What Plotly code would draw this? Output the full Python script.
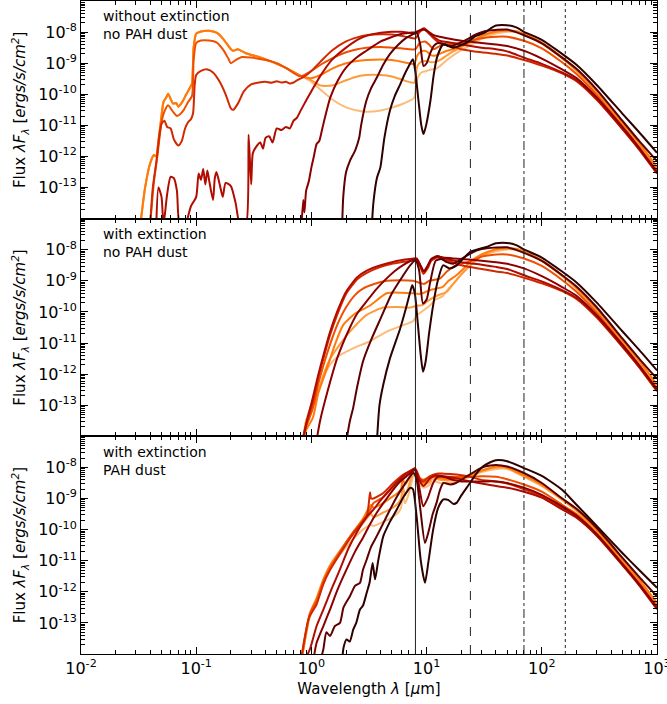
import plotly.graph_objects as go
from plotly.subplots import make_subplots

# colours, lightest (latest stage) to darkest (most embedded)
COLORS = ["#FDBB7A", "#FF9A3C", "#FF7A0A", "#F04F00", "#D22800",
          "#B00C00", "#8C0000", "#5E0000", "#2E0000"]

PANEL_LABELS = ["without extinction<br>no PAH dust",
                "with extinction<br>no PAH dust",
                "with extinction<br>PAH dust"]

# (wavelength [um], log10 flux) pairs

# far-IR tails shared by panel 1 and panel 2
FIR_C0 = [(40, -8.05), (50, -7.99), (60, -8.0), (70, -8.08), (100, -8.37), (150, -8.85), (200, -9.25), (300, -9.93), (500, -10.93), (700, -11.6), (1000, -12.38)]
FIR_C1 = [(40, -8.0), (50, -7.96), (60, -7.98), (70, -8.07), (100, -8.35), (150, -8.83), (200, -9.23), (300, -9.91), (500, -10.91), (700, -11.58), (1000, -12.36)]
FIR_C2 = [(40, -7.98), (50, -7.95), (60, -7.97), (70, -8.06), (100, -8.34), (150, -8.82), (200, -9.22), (300, -9.9), (500, -10.9), (700, -11.56), (1000, -12.34)]
FIR_C3 = [(40, -8.15), (50, -8.15), (70, -8.28), (100, -8.52), (150, -8.97), (200, -9.35), (300, -10.02), (500, -11.02), (700, -11.7), (1000, -12.46)]
FIR_C4 = [(40, -8.7), (50, -8.75), (70, -8.9), (100, -9.08), (150, -9.33), (200, -9.58), (300, -10.18), (500, -11.12), (700, -11.78), (1000, -12.55)]
FIR_C5 = [(40, -8.55), (50, -8.62), (70, -8.82), (100, -9.02), (150, -9.3), (200, -9.55), (300, -10.15), (500, -11.1), (700, -11.76), (1000, -12.53)]
FIR_C6 = [(40, -8.4), (50, -8.45), (70, -8.6), (100, -8.85), (150, -9.2), (200, -9.48), (300, -10.1), (500, -11.05), (700, -11.72), (1000, -12.5)]
FIR_C7 = [(40, -7.93), (50, -7.92), (70, -8.1), (100, -8.36), (150, -8.82), (200, -9.18), (300, -9.85), (500, -10.85), (700, -11.5), (1000, -12.15)]
FIR_C8 = [(40, -7.79), (50, -7.78), (60, -7.85), (70, -7.99), (100, -8.25), (150, -8.7), (200, -9.05), (300, -9.7), (500, -10.62), (700, -11.22), (1000, -11.88)]

# --- panel 1: without extinction, no PAH dust ---
UV_GROUP = [(0.033, -14.1), (0.036, -13.0), (0.04, -12.2), (0.043, -11.95), (0.045, -12.0), (0.047, -11.5), (0.05, -10.7),
            (0.052, -10.25), (0.055, -10.1), (0.057, -9.98), (0.06, -10.15), (0.063, -10.3), (0.067, -10.28), (0.07, -10.4),
            (0.074, -10.3), (0.077, -10.2), (0.082, -10.0), (0.088, -9.8), (0.092, -9.65), (0.095, -8.5), (0.1, -8.05),
            (0.11, -7.98), (0.13, -7.96), (0.15, -8.02), (0.17, -8.2), (0.2, -8.55), (0.21, -8.6), (0.23, -8.55),
            (0.27, -8.68), (0.35, -8.8), (0.45, -8.95), (0.6, -9.15), (0.8, -9.4)]
P1_C0 = UV_GROUP + [(1.0, -9.6), (1.2, -9.85), (1.5, -10.15), (2, -10.42), (2.5, -10.52), (3, -10.56), (4, -10.52), (5, -10.43),
                    (6, -10.33), (7, -10.22), (7.8, -10.12), (8.3, -9.5), (9, -9.3), (10, -9.25), (11, -9.2), (12, -9.18),
                    (13, -9.1), (15, -8.9), (17, -8.75), (20, -8.58), (25, -8.38), (30, -8.22)] + FIR_C0
P1_C1 = UV_GROUP + [(1.0, -9.55), (1.2, -9.72), (1.5, -9.72), (2, -9.55), (2.5, -9.43), (3, -9.38), (4, -9.38), (5, -9.43),
                    (6, -9.52), (7, -9.6), (7.8, -9.63), (8.3, -9.1), (9, -8.95), (10, -8.93), (11, -8.97), (12, -8.95),
                    (13, -8.9), (15, -8.75), (17, -8.62), (20, -8.48), (25, -8.3), (30, -8.15)] + FIR_C1
P1_C2 = UV_GROUP + [(1.0, -9.48), (1.2, -9.38), (1.5, -9.18), (2, -9.0), (2.5, -8.93), (3, -8.9), (4, -8.88), (5, -8.9),
                    (6, -8.95), (7, -9.0), (7.8, -9.03), (8.3, -8.75), (9, -8.62), (10, -8.62), (11, -8.75), (12, -8.75),
                    (13, -8.7), (15, -8.6), (17, -8.55), (20, -8.45), (25, -8.28), (30, -8.12)] + FIR_C2
P1_C3 = [(0.04, -14.1), (0.043, -12.8), (0.046, -12.0), (0.05, -10.9), (0.053, -10.55), (0.057, -10.35), (0.06, -10.45),
         (0.064, -10.6), (0.068, -10.7), (0.072, -10.65), (0.078, -10.5), (0.085, -10.25), (0.092, -10.05), (0.095, -8.9),
         (0.1, -8.35), (0.11, -8.27), (0.13, -8.27), (0.15, -8.33), (0.17, -8.55), (0.19, -8.85), (0.2, -9.0), (0.22, -8.9),
         (0.25, -8.8), (0.3, -8.82), (0.4, -8.9), (0.5, -9.0), (0.6, -9.15), (0.8, -9.42), (1.0, -9.25), (1.2, -9.05),
         (1.5, -8.85), (2, -8.65), (2.5, -8.55), (3, -8.5), (4, -8.48), (5, -8.5), (6, -8.52), (7, -8.55), (8, -8.55),
         (8.7, -8.35), (9.7, -8.3), (10.5, -8.4), (11.5, -8.55), (13, -8.45), (15, -8.4), (20, -8.35), (30, -8.2)] + FIR_C3
P1_C4 = [(0.04, -14.1), (0.042, -13.0), (0.045, -12.2), (0.048, -11.3), (0.05, -10.95), (0.053, -10.85), (0.056, -11.05),
         (0.06, -11.1), (0.064, -11.45), (0.07, -11.65), (0.075, -11.5), (0.08, -11.1), (0.085, -10.9), (0.09, -10.8),
         (0.094, -10.6), (0.097, -9.7), (0.1, -9.38), (0.11, -9.25), (0.125, -9.2), (0.14, -9.3), (0.16, -9.6), (0.18, -10.0),
         (0.2, -10.45), (0.21, -10.5), (0.23, -10.3), (0.26, -9.9), (0.3, -9.68), (0.35, -9.62), (0.4, -9.6), (0.45, -9.63),
         (0.5, -9.58), (0.55, -9.62), (0.6, -9.6), (0.65, -9.65), (0.7, -9.62), (0.75, -9.55), (0.85, -9.45), (1.0, -9.25),
         (1.2, -8.95), (1.5, -8.6), (2, -8.3), (2.5, -8.17), (3, -8.1), (4, -8.07), (5, -8.08), (6, -8.12), (7, -8.17),
         (8, -8.2), (8.7, -8.0), (9.5, -7.92), (10.5, -8.05), (11.5, -8.2), (13, -8.35), (15, -8.4), (20, -8.55), (30, -8.65)] + FIR_C4
P1_C5 = [(0.045, -14.2), (0.047, -13.0), (0.05, -13.3), (0.052, -14.2), (0.056, -13.2), (0.06, -12.65), (0.064, -12.7),
         (0.068, -13.1), (0.072, -14.2), (0.08, -14.2), (0.09, -13.6), (0.1, -13.3), (0.105, -12.55), (0.11, -12.75),
         (0.115, -12.4), (0.12, -12.9), (0.125, -12.45), (0.13, -12.8), (0.14, -13.4), (0.145, -12.7), (0.15, -12.5),
         (0.16, -12.9), (0.17, -13.3), (0.18, -12.85), (0.2, -12.95), (0.22, -13.5), (0.24, -14.2), (0.27, -14.2),
         (0.285, -11.3), (0.3, -12.9), (0.31, -11.9), (0.33, -11.7), (0.36, -11.55), (0.38, -11.75), (0.4, -11.4),
         (0.43, -11.35), (0.46, -11.55), (0.5, -11.1), (0.55, -11.15), (0.6, -11.05), (0.65, -11.1), (0.7, -10.85),
         (0.75, -10.75), (0.8, -10.55), (0.9, -10.2), (1.0, -9.9), (1.2, -9.4), (1.5, -8.9), (2, -8.5), (2.5, -8.25),
         (3, -8.12), (4, -8.02), (5, -7.99), (6, -7.99), (7, -8.02), (8, -8.05), (8.7, -7.95), (9.5, -7.88), (10.5, -8.02),
         (11.5, -8.15), (13, -8.28), (15, -8.32), (20, -8.4), (30, -8.5)] + FIR_C5
P1_C6 = [(0.82, -14.2), (0.85, -13.4), (0.87, -13.8), (0.9, -13.1), (0.95, -12.8), (1.0, -12.35), (1.05, -12.0), (1.11, -11.6),
         (1.17, -11.5), (1.23, -11.18), (1.3, -10.8), (1.46, -10.1), (1.7, -9.55), (2, -9.14), (2.5, -8.8), (3, -8.6),
         (4, -8.3), (4.8, -8.18), (6, -8.06), (7.2, -8.02), (8, -8.0), (8.7, -7.95), (9.5, -7.92), (10.5, -8.0), (11.5, -8.1),
         (13, -8.15), (15, -8.2), (20, -8.28), (30, -8.35)] + FIR_C6
P1_C7 = [(1.85, -14.2), (1.89, -13.3), (2.0, -12.5), (2.16, -12.14), (2.4, -11.8), (2.6, -11.4), (2.7, -11.0), (3.0, -10.21),
         (3.3, -9.8), (3.7, -9.46), (4.2, -9.05), (4.8, -8.71), (5.7, -8.4), (6.7, -8.18), (7.5, -8.08), (8.2, -8.02),
         (8.8, -8.4), (9.4, -9.09), (10, -9.0), (10.7, -8.7), (11.5, -8.45), (12.5, -8.35), (14, -8.38), (16, -8.45),
         (18, -8.4), (22, -8.25), (27, -8.07), (32, -7.97)] + FIR_C7
P1_C8 = [(3.35, -14.2), (3.45, -13.5), (3.7, -12.7), (3.97, -12.35), (4.3, -11.4), (4.8, -10.53), (5.3, -10.05), (5.9, -9.68),
         (6.4, -9.38), (6.9, -9.14), (7.6, -8.87), (8.0, -9.3), (8.5, -10.2), (9.0, -11.0), (9.4, -11.28), (9.9, -11.0),
         (10.8, -10.2), (11.5, -9.4), (12.3, -8.82), (13.9, -8.39), (15.5, -8.45), (17.1, -8.5), (22.3, -8.34), (26, -8.15),
         (32, -8.02), (36, -7.88)] + FIR_C8

# --- panel 2: with extinction, no PAH dust ---
P2_C0 = [(0.84, -14.2), (0.9, -13.5), (1.0, -13.0), (1.14, -12.57), (1.3, -12.0), (1.45, -11.7), (1.67, -11.45), (2.3, -11.17),
         (3.2, -10.95), (4.5, -10.63), (6.2, -10.43), (7.6, -10.3), (8.3, -10.1), (9, -10.0), (10.6, -9.8), (12, -9.6),
         (13.7, -9.5), (15.5, -9.25), (18, -9.0), (21, -8.72), (24, -8.5), (30, -8.22)] + FIR_C0
P2_C1 = [(0.84, -14.2), (0.9, -13.5), (1.0, -13.1), (1.1, -12.8), (1.25, -12.1), (1.46, -11.5), (1.8, -11.0), (2.16, -10.63),
         (3.0, -10.1), (4.2, -9.86), (5.5, -9.84), (7.2, -9.86), (8.2, -9.8), (9.2, -9.78), (10.5, -9.62), (12.4, -9.47),
         (15, -9.35), (17, -9.1), (19.5, -8.83), (24, -8.5), (30, -8.2)] + FIR_C1
P2_C2 = [(0.84, -14.2), (0.9, -13.8), (1.03, -13.4), (1.15, -12.6), (1.37, -11.8), (1.6, -11.05), (1.88, -10.43), (2.4, -10.05),
         (3.2, -9.8), (4.5, -9.4), (6, -9.38), (7.6, -9.4), (8.5, -9.42), (9.5, -9.38), (10.6, -9.3), (12, -9.25), (13.7, -9.2),
         (15.5, -9.0), (18, -8.83), (21, -8.6), (24, -8.38), (30, -8.15)] + FIR_C2
P2_C3 = [(0.83, -14.2), (0.9, -13.7), (1.03, -13.1), (1.15, -12.3), (1.3, -11.6), (1.45, -11.05), (1.67, -10.43), (2.0, -9.85),
         (2.4, -9.45), (2.8, -9.25), (3.5, -9.1), (4.5, -9.0), (6, -8.98), (7.6, -9.0), (8.5, -9.05), (9.5, -9.1), (10.5, -9.0),
         (13, -8.93), (15, -8.7), (17, -8.55), (20, -8.45), (25, -8.35), (30, -8.22)] + FIR_C3
P2_C4 = [(0.83, -14.2), (0.92, -13.5), (1.03, -12.9), (1.15, -12.1), (1.26, -11.55), (1.45, -10.75), (1.67, -10.1),
         (2.0, -9.42), (2.5, -8.95), (3, -8.75), (4, -8.55), (5, -8.45), (6, -8.4), (7.2, -8.36), (8.2, -8.35), (8.8, -8.55),
         (9.4, -8.78), (10.2, -8.6), (11, -8.35), (12.4, -8.25), (14, -8.32), (16, -8.38), (20, -8.5), (30, -8.62)] + FIR_C4
P2_C5 = [(0.83, -14.2), (0.9, -13.6), (1.03, -12.75), (1.15, -12.0), (1.26, -11.45), (1.45, -10.65), (1.67, -10.0),
         (2.0, -9.35), (2.5, -8.88), (3, -8.68), (4, -8.5), (5, -8.4), (6, -8.34), (7.2, -8.3), (8.2, -8.28), (8.8, -8.48),
         (9.4, -8.7), (10.2, -8.52), (11, -8.3), (12.4, -8.2), (14, -8.27), (16, -8.32), (20, -8.4), (30, -8.48)] + FIR_C5
P2_C6 = [(1.1, -14.2), (1.19, -13.5), (1.37, -12.6), (1.67, -11.5), (2.16, -10.5), (2.5, -10.05), (3.0, -9.67), (3.7, -9.25),
         (4.5, -8.92), (5.3, -8.68), (6.2, -8.5), (7.6, -8.33), (8.2, -8.32), (8.8, -8.5), (9.5, -8.7), (10.3, -8.5),
         (11, -8.3), (12.5, -8.22), (14, -8.25), (17, -8.28), (20, -8.3), (30, -8.35)] + FIR_C6
P2_C7 = [(2.0, -14.2), (2.16, -13.5), (2.3, -13.1), (2.5, -12.4), (2.8, -11.6), (3.3, -10.9), (4.0, -10.2), (5.0, -9.4),
         (6.2, -8.85), (7.2, -8.5), (8.0, -8.35), (8.6, -8.65), (9.3, -9.73), (10, -9.6), (10.8, -9.0), (12, -8.35),
         (13.5, -8.3), (15, -8.4), (17, -8.45), (20, -8.3), (24, -8.12), (30, -7.98)] + FIR_C7
P2_C8 = [(3.7, -14.2), (3.9, -13.0), (4.2, -12.35), (4.8, -11.5), (5.9, -10.53), (6.6, -9.9), (7.2, -9.36), (7.5, -9.14),
         (7.9, -9.4), (8.4, -10.4), (8.9, -11.4), (9.3, -11.92), (9.8, -11.6), (10.5, -10.7), (11.4, -9.78), (12.5, -9.0),
         (13.9, -8.5), (15.8, -8.6), (18.2, -8.5), (24, -8.07), (33, -7.91)] + FIR_C8

# --- panel 3: with extinction, PAH dust ---
P3_C0 = [(0.83, -14.1), (0.97, -12.8), (1.11, -12.3), (1.27, -11.7), (1.45, -11.25), (1.77, -10.8), (2.31, -10.3), (2.8, -10.0),
         (3.3, -9.85), (3.45, -9.88), (4.2, -9.75), (4.8, -9.65), (5.5, -9.5), (6.0, -9.3), (6.2, -8.85), (6.5, -9.15),
         (7.0, -8.85), (7.6, -8.3), (7.93, -8.1), (8.3, -8.3), (8.6, -8.5), (9.4, -8.65), (10.7, -8.55), (11.3, -8.35),
         (12, -8.45), (13, -8.5), (15, -8.5), (18, -8.45), (24, -8.3), (30, -8.15), (40, -8.05), (50, -8.05), (70, -8.3),
         (100, -8.6), (150, -9.05), (200, -9.4), (300, -10.05), (500, -11.0), (700, -11.65), (1000, -12.4)]
P3_C1 = [(0.83, -14.1), (0.97, -12.75), (1.11, -12.25), (1.27, -11.65), (1.45, -11.2), (1.77, -10.72), (2.31, -10.15),
         (2.8, -9.8), (3.3, -9.5), (3.45, -9.6), (4.2, -9.45), (4.8, -9.35), (5.5, -9.2), (6.0, -9.0), (6.2, -8.6), (6.5, -8.9),
         (7.0, -8.6), (7.6, -8.15), (7.93, -8.05), (8.3, -8.25), (8.6, -8.45), (9.4, -8.55), (10.7, -8.45), (11.3, -8.3),
         (12, -8.35), (13, -8.4), (15, -8.42), (18, -8.4), (24, -8.28), (30, -8.12), (40, -8.0), (50, -8.02), (70, -8.28),
         (100, -8.58), (150, -9.03), (200, -9.38), (300, -10.03), (500, -10.98), (700, -11.63), (1000, -12.38)]
P3_C2 = [(0.83, -14.1), (0.97, -12.7), (1.11, -12.2), (1.27, -11.6), (1.45, -11.15), (1.77, -10.68), (2.31, -10.08),
         (2.8, -9.65), (3.3, -9.2), (3.45, -9.3), (4.2, -9.15), (4.8, -9.0), (5.5, -8.85), (6.0, -8.7), (6.2, -8.35),
         (6.5, -8.55), (7.0, -8.35), (7.6, -8.08), (7.93, -8.03), (8.3, -8.2), (8.6, -8.4), (9.4, -8.5), (10.7, -8.38),
         (11.3, -8.25), (12, -8.3), (13, -8.35), (15, -8.38), (18, -8.35), (24, -8.25), (30, -8.1), (40, -7.97), (50, -8.0),
         (70, -8.25), (100, -8.55), (150, -9.0), (200, -9.36), (300, -10.0), (500, -10.95), (700, -11.6), (1000, -12.36)]
P3_C3 = [(0.82, -14.1), (0.97, -12.7), (1.11, -12.3), (1.27, -11.68), (1.45, -11.25), (1.77, -10.72), (2.31, -10.08),
         (3.02, -9.55), (3.3, -9.3), (3.45, -9.15), (4.21, -8.95), (5.14, -8.62), (6.28, -8.3), (7.18, -8.15), (7.93, -8.03),
         (8.77, -8.35), (9.36, -8.4), (10.7, -8.3), (12.2, -8.28), (14, -8.3), (18, -8.3), (24, -8.3), (30, -8.28),
         (40, -8.3), (50, -8.38), (70, -8.55), (100, -8.78), (150, -9.2), (200, -9.5), (300, -10.12), (500, -11.07),
         (700, -11.72), (1000, -12.48)]
P3_C4 = [(0.82, -14.1), (0.95, -12.85), (1.11, -12.4), (1.27, -11.75), (1.45, -11.3), (1.77, -10.78), (2.31, -10.12),
         (3.02, -9.58), (3.23, -8.8), (3.3, -9.0), (3.45, -9.0), (4.21, -8.82), (5.14, -8.5), (6.28, -8.23), (7.18, -8.12),
         (7.93, -8.03), (8.77, -8.38), (9.36, -8.45), (10.7, -8.28), (12.2, -8.2), (14, -8.2), (18.2, -8.23), (23.8, -8.3),
         (30, -8.4), (40, -8.45), (50, -8.52), (70, -8.7), (100, -8.92), (150, -9.3), (200, -9.58), (300, -10.18),
         (500, -11.12), (700, -11.77), (1000, -12.54)]
P3_C5 = [(0.9, -14.1), (0.97, -13.85), (1.11, -13.1), (1.27, -12.57), (1.5, -11.9), (1.77, -11.28), (2.1, -10.6),
         (2.47, -10.1), (3.0, -9.6), (3.45, -9.36), (4.0, -9.05), (4.81, -8.71), (5.7, -8.42), (6.71, -8.18), (7.93, -8.05),
         (8.77, -8.45), (9.4, -8.6), (10.7, -8.35), (12.2, -8.25), (14, -8.28), (18, -8.35), (24, -8.45), (30, -8.52),
         (40, -8.6), (50, -8.65), (70, -8.78), (100, -8.97), (150, -9.35), (200, -9.62), (300, -10.2), (500, -11.14),
         (700, -11.79), (1000, -12.56)]
P3_C6 = [(1.05, -14.1), (1.11, -13.64), (1.27, -13.1), (1.45, -12.57), (1.7, -11.9), (2.02, -11.28), (2.4, -10.7),
         (2.85, -10.21), (3.2, -9.85), (3.69, -9.46), (4.3, -9.1), (5.14, -8.71), (5.9, -8.45), (6.71, -8.28), (7.4, -8.15),
         (7.93, -8.07), (8.5, -8.5), (9.36, -9.25), (10.2, -9.0), (11.4, -8.5), (12.5, -8.3), (14, -8.3), (17, -8.4),
         (20, -8.45), (25, -8.45), (30, -8.45), (40, -8.45), (50, -8.5), (70, -8.65), (100, -8.88), (150, -9.25),
         (200, -9.55), (300, -10.15), (500, -11.1), (700, -11.75), (1000, -12.5)]
P3_C7 = [(1.2, -14.2), (1.27, -13.85), (1.35, -13.3), (1.45, -13.42), (1.6, -13.1), (1.77, -13.0), (1.9, -12.5),
         (2.16, -12.14), (2.4, -11.8), (2.64, -11.71), (2.8, -11.3), (3.02, -10.96), (3.3, -10.55), (3.69, -10.21),
         (4.2, -9.8), (4.81, -9.36), (5.5, -8.95), (6.28, -8.61), (7.0, -8.35), (7.67, -8.18), (8.2, -8.4), (8.8, -9.3),
         (9.68, -10.43), (10.5, -10.0), (11.3, -9.5), (12.2, -9.14), (13, -8.75), (14, -8.5), (16, -8.55), (18, -8.5),
         (22, -8.3), (27, -8.1), (32, -7.97), (40, -7.92), (50, -7.97), (70, -8.18), (100, -8.5), (150, -9.0), (200, -9.33),
         (300, -9.95), (500, -10.9), (700, -11.52), (1000, -12.15)]
P3_C8 = [(1.85, -14.2), (1.9, -13.8), (2.02, -13.53), (2.15, -13.6), (2.31, -13.21), (2.45, -13.0), (2.64, -12.57),
         (2.8, -12.45), (3.02, -12.03), (3.2, -11.7), (3.4, -11.07), (3.57, -11.6), (3.8, -11.0), (4.21, -10.21),
         (4.8, -9.75), (5.5, -9.36), (6.3, -8.95), (7.18, -8.66), (7.6, -8.7), (8.2, -9.6), (8.9, -11.0), (9.68, -11.71),
         (10.4, -11.0), (11.4, -10.0), (12.6, -9.3), (14, -9.03), (15.5, -9.05), (17, -9.17), (18.2, -9.14), (20, -8.9),
         (23.8, -8.5), (27, -8.2), (31, -7.96), (35, -7.85), (40, -7.77), (50, -7.8), (70, -8.02), (100, -8.27),
         (150, -8.72), (200, -9.2), (300, -9.88), (500, -10.75), (700, -11.3), (1000, -11.87)]

PANELS = [
    [P1_C0, P1_C1, P1_C2, P1_C3, P1_C4, P1_C5, P1_C6, P1_C7, P1_C8],
    [P2_C0, P2_C1, P2_C2, P2_C3, P2_C4, P2_C5, P2_C6, P2_C7, P2_C8],
    [P3_C0, P3_C1, P3_C2, P3_C3, P3_C4, P3_C5, P3_C6, P3_C7, P3_C8],
]

# vertical reference wavelengths (um) and their dash styles
VLINES = [(8, "solid"), (24, "dash"), (70, "dashdot"), (160, "dot")]

FONT = "DejaVu Sans, Liberation Sans, sans-serif"

fig = make_subplots(rows=3, cols=1, shared_xaxes=True, vertical_spacing=0)

for row, curves in enumerate(PANELS, start=1):
    for i, pts in enumerate(curves):
        fig.add_trace(go.Scatter(
            x=[p[0] for p in pts],
            y=[10 ** p[1] for p in pts],
            mode="lines",
            line=dict(color=COLORS[i], width=2, shape="spline", smoothing=0.6),
            showlegend=False,
            hoverinfo="skip",
        ), row=row, col=1)
    fig.add_annotation(
        text=PANEL_LABELS[row - 1], xref="x domain", yref="y domain",
        x=0.034, y=0.975, xanchor="left", yanchor="top", showarrow=False,
        align="left", font=dict(family=FONT, size=14, color="black"),
        row=row, col=1,
    )

for wl, dash in VLINES:
    fig.add_shape(type="line", xref="x", yref="paper", x0=wl, x1=wl, y0=0, y1=1,
                  line=dict(color="#222222", width=1, dash=dash))

ytick_vals = [1e-13, 1e-12, 1e-11, 1e-10, 1e-9, 1e-8]
ytick_text = ["10<sup>-13</sup>", "10<sup>-12</sup>", "10<sup>-11</sup>",
              "10<sup>-10</sup>", "10<sup>-9</sup>", "10<sup>-8</sup>"]
xtick_vals = [1e-2, 1e-1, 1e0, 1e1, 1e2, 1e3]
xtick_text = ["10<sup>-2</sup>", "10<sup>-1</sup>", "10<sup>0</sup>",
              "10<sup>1</sup>", "10<sup>2</sup>", "10<sup>3</sup>"]

fig.update_xaxes(
    type="log", range=[-2, 3], showgrid=False, zeroline=False,
    showline=True, linecolor="black", linewidth=1, mirror="allticks",
    ticks="inside", ticklen=7, tickcolor="black",
    tickmode="array", tickvals=xtick_vals, ticktext=xtick_text,
    tickfont=dict(family=FONT, size=16, color="black"),
    ticklabeloverflow="allow", automargin=False,
    minor=dict(ticks="inside", ticklen=4, tickcolor="black", dtick="D1", showgrid=False),
)
fig.update_xaxes(title_text="Wavelength <i>λ</i> [<i>μ</i>m]",
                 title_font=dict(family=FONT, size=15, color="black"),
                 title_standoff=6, row=3, col=1)
fig.update_yaxes(
    type="log", range=[-14, -7], showgrid=False, zeroline=False,
    showline=True, linecolor="black", linewidth=1, mirror="allticks",
    ticks="inside", ticklen=7, tickcolor="black",
    tickmode="array", tickvals=ytick_vals, ticktext=ytick_text,
    tickfont=dict(family=FONT, size=16, color="black"),
    minor=dict(ticks="inside", ticklen=4, tickcolor="black", dtick="D1", showgrid=False),
    title_text="Flux <i>λF<sub>λ</sub></i> [<i>ergs/s/cm<sup>2</sup></i>]",
    title_font=dict(family=FONT, size=15, color="black"),
    title_standoff=8,
)

fig.update_layout(
    width=667, height=704,
    margin=dict(l=81, r=10, t=1, b=50),
    plot_bgcolor="white", paper_bgcolor="white",
    showlegend=False,
    font=dict(family=FONT, color="black"),
)

# drop the page's default body margin and clip anything that spills past the window
fig.write_html(
    "out.html", config={"displayModeBar": False},
    post_script=("document.body.style.margin='0';"
                 "document.body.style.overflow='hidden';"
                 "document.documentElement.style.overflow='hidden';"),
)
